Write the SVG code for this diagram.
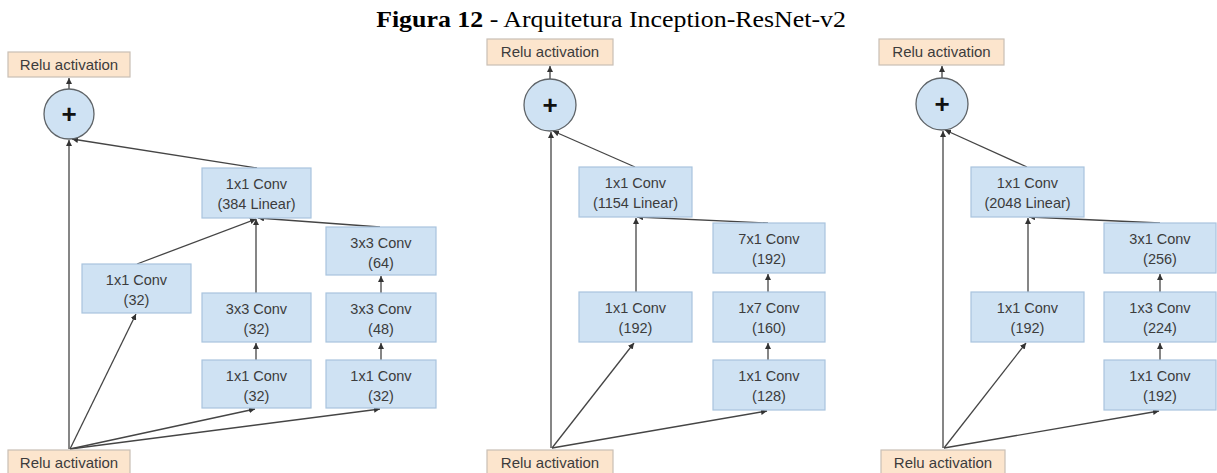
<svg xmlns="http://www.w3.org/2000/svg" width="1217" height="473" viewBox="0 0 1217 473">
<style>
.b{fill:#cfe2f3;stroke:#a9c4de;stroke-width:1.2}
.r{fill:#fce5cd;stroke:#c9bfb5;stroke-width:1.2}
.c{fill:#cfe2f3;stroke:#5f6468;stroke-width:1.3}
.t{font-family:"Liberation Sans",Arial,sans-serif;font-size:14.5px;fill:#3c3c3c;text-anchor:middle}
.rt{font-size:15px}
.p{font-family:"Liberation Sans",Arial,sans-serif;font-size:26px;font-weight:bold;fill:#111;text-anchor:middle}
.e{stroke:#454545;stroke-width:1.3;fill:none;marker-end:url(#a)}
</style>
<defs>
<marker id="a" markerUnits="userSpaceOnUse" markerWidth="7" markerHeight="6" refX="6" refY="3" orient="auto">
<path d="M0,0 L6,3 L0,6 Z" fill="#333"/>
</marker>
</defs>
<rect width="1217" height="473" fill="#fff"/>
<g id="title" transform="translate(611,27) scale(1.15,1)">
<text x="0" y="0" font-family="Liberation Serif, Times New Roman, serif" font-size="22.5" fill="#000" text-anchor="middle"><tspan font-weight="bold">Figura 12</tspan> - Arquitetura Inception-ResNet-v2</text>
</g>
<g id="connectors">
<path class="e" d="M69,89 L69,78"/>
<path class="e" d="M257,168 L72,139"/>
<path class="e" d="M69,449 L69,140"/>
<path class="e" d="M137,264 L256,219"/>
<path class="e" d="M256,293 L256,219"/>
<path class="e" d="M380,227 L258,218"/>
<path class="e" d="M70,449 L136,314"/>
<path class="e" d="M70,449 L255,409"/>
<path class="e" d="M70,449 L380,409"/>
<path class="e" d="M256,360 L256,343"/>
<path class="e" d="M381,360 L381,343"/>
<path class="e" d="M381,293 L381,276"/>
<path class="e" d="M550,79 L550,66"/>
<path class="e" d="M635,167 L553,131"/>
<path class="e" d="M551,448 L551,132"/>
<path class="e" d="M636,292 L636,218"/>
<path class="e" d="M768,223 L637,217"/>
<path class="e" d="M552,448 L634,343"/>
<path class="e" d="M552,448 L767,411"/>
<path class="e" d="M768,360 L768,343"/>
<path class="e" d="M768,292 L768,274"/>
<path class="e" d="M942,78 L942,66"/>
<path class="e" d="M1027,167 L945,130"/>
<path class="e" d="M943,448 L943,131"/>
<path class="e" d="M1028,292 L1028,218"/>
<path class="e" d="M1160,223 L1029,217"/>
<path class="e" d="M944,448 L1026,343"/>
<path class="e" d="M944,448 L1159,411"/>
<path class="e" d="M1160,360 L1160,343"/>
<path class="e" d="M1160,292 L1160,274"/>
</g>
<g id="p1_relu_top"><rect class="r" x="8" y="52" width="122" height="25"/><text class="t rt" x="69" y="70">Relu activation</text></g>
<g id="p1_add"><circle class="c" cx="69" cy="114" r="25"/><text class="p" x="69" y="123">+</text></g>
<g id="p1_conv384"><rect class="b" x="202" y="168" width="109" height="50"/><text class="t" x="256.5" y="189">1x1 Conv</text><text class="t" x="256.5" y="209">(384 Linear)</text></g>
<g id="p1_conv1x1_32a"><rect class="b" x="82" y="264" width="109" height="49"/><text class="t" x="136.5" y="285">1x1 Conv</text><text class="t" x="136.5" y="305">(32)</text></g>
<g id="p1_conv3x3_32"><rect class="b" x="202" y="293" width="109" height="49"/><text class="t" x="256.5" y="314">3x3 Conv</text><text class="t" x="256.5" y="334">(32)</text></g>
<g id="p1_conv3x3_64"><rect class="b" x="326" y="227" width="110" height="48"/><text class="t" x="381" y="248">3x3 Conv</text><text class="t" x="381" y="268">(64)</text></g>
<g id="p1_conv3x3_48"><rect class="b" x="326" y="293" width="110" height="49"/><text class="t" x="381" y="314">3x3 Conv</text><text class="t" x="381" y="334">(48)</text></g>
<g id="p1_conv1x1_32b"><rect class="b" x="202" y="360" width="109" height="48"/><text class="t" x="256.5" y="381">1x1 Conv</text><text class="t" x="256.5" y="401">(32)</text></g>
<g id="p1_conv1x1_32c"><rect class="b" x="326" y="360" width="110" height="48"/><text class="t" x="381" y="381">1x1 Conv</text><text class="t" x="381" y="401">(32)</text></g>
<g id="p1_relu_bot"><rect class="r" x="8" y="450" width="122" height="26"/><text class="t rt" x="69" y="468">Relu activation</text></g>
<g id="p2_relu_top"><rect class="r" x="487" y="39" width="126" height="26"/><text class="t rt" x="550" y="57">Relu activation</text></g>
<g id="p2_add"><circle class="c" cx="550" cy="105" r="26"/><text class="p" x="550" y="114">+</text></g>
<g id="p2_conv1154"><rect class="b" x="579" y="167" width="113" height="50"/><text class="t" x="635.5" y="188">1x1 Conv</text><text class="t" x="635.5" y="208">(1154 Linear)</text></g>
<g id="p2_conv7x1"><rect class="b" x="713" y="223" width="112" height="50"/><text class="t" x="769" y="244">7x1 Conv</text><text class="t" x="769" y="264">(192)</text></g>
<g id="p2_conv1x1_192"><rect class="b" x="579" y="292" width="113" height="50"/><text class="t" x="635.5" y="313">1x1 Conv</text><text class="t" x="635.5" y="333">(192)</text></g>
<g id="p2_conv1x7"><rect class="b" x="713" y="292" width="112" height="50"/><text class="t" x="769" y="313">1x7 Conv</text><text class="t" x="769" y="333">(160)</text></g>
<g id="p2_conv1x1_128"><rect class="b" x="713" y="360" width="112" height="50"/><text class="t" x="769" y="381">1x1 Conv</text><text class="t" x="769" y="401">(128)</text></g>
<g id="p2_relu_bot"><rect class="r" x="487" y="450" width="126" height="26"/><text class="t rt" x="550" y="468">Relu activation</text></g>
<g id="p3_relu_top"><rect class="r" x="879" y="39" width="125" height="26"/><text class="t rt" x="941.5" y="57">Relu activation</text></g>
<g id="p3_add"><circle class="c" cx="942" cy="104" r="26"/><text class="p" x="942" y="113">+</text></g>
<g id="p3_conv2048"><rect class="b" x="971" y="167" width="113" height="50"/><text class="t" x="1027.5" y="188">1x1 Conv</text><text class="t" x="1027.5" y="208">(2048 Linear)</text></g>
<g id="p3_conv3x1"><rect class="b" x="1104" y="223" width="112" height="50"/><text class="t" x="1160" y="244">3x1 Conv</text><text class="t" x="1160" y="264">(256)</text></g>
<g id="p3_conv1x1_192a"><rect class="b" x="971" y="292" width="113" height="50"/><text class="t" x="1027.5" y="313">1x1 Conv</text><text class="t" x="1027.5" y="333">(192)</text></g>
<g id="p3_conv1x3"><rect class="b" x="1104" y="292" width="112" height="50"/><text class="t" x="1160" y="313">1x3 Conv</text><text class="t" x="1160" y="333">(224)</text></g>
<g id="p3_conv1x1_192b"><rect class="b" x="1104" y="360" width="112" height="50"/><text class="t" x="1160" y="381">1x1 Conv</text><text class="t" x="1160" y="401">(192)</text></g>
<g id="p3_relu_bot"><rect class="r" x="881" y="450" width="124" height="26"/><text class="t rt" x="943" y="468">Relu activation</text></g>
</svg>
